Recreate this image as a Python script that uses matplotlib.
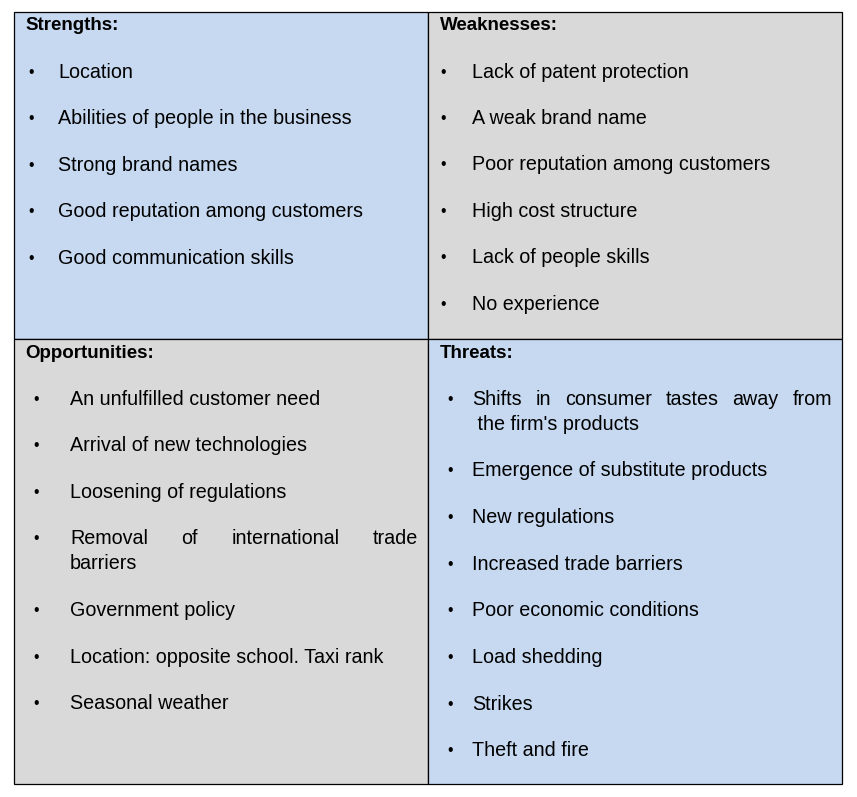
import matplotlib
matplotlib.use("Agg")
import matplotlib.pyplot as plt
from matplotlib.patches import Rectangle

headers = ["Strengths:", "Weaknesses:", "Opportunities:", "Threats:"]
strengths = ["Location", "Abilities of people in the business", "Strong brand names",
             "Good reputation among customers", "Good communication skills"]
weaknesses = ["Lack of patent protection", "A weak brand name", "Poor reputation among customers",
              "High cost structure", "Lack of people skills", "No experience"]
opportunities = ["An unfulfilled customer need", "Arrival of new technologies",
                 "Loosening of regulations", ["Removal of international trade", "barriers"],
                 "Government policy", "Location: opposite school. Taxi rank", "Seasonal weather"]
threats = [["Shifts in consumer tastes away from", " the firm's products"],
           "Emergence of substitute products", "New regulations", "Increased trade barriers",
           "Poor economic conditions", "Load shedding", "Strikes", "Theft and fire"]

BLUE = "#C6D9F1"
GRAY = "#D9D9D9"
FONT = "Liberation Sans"
FS = 14.2

fig = plt.figure(figsize=(8.57, 7.97), dpi=100)
ax = fig.add_axes([0, 0, 1, 1])
ax.set_xlim(0, 857)
ax.set_ylim(797, 0)
ax.axis("off")

L, M, R = 14, 428, 842
T, H, B = 12, 339, 784
cells = [(L, T, M, H, BLUE), (M, T, R, H, GRAY), (L, H, M, B, GRAY), (M, H, R, B, BLUE)]
for x0, y0, x1, y1, c in cells:
    ax.add_patch(Rectangle((x0, y0), x1 - x0, y1 - y0, facecolor=c, edgecolor="black", lw=0.9))

def justified(words_line, x0, x1, y):
    words = words_line.split()
    widths = []
    r = fig.canvas.get_renderer()
    ts = []
    for w in words:
        t = ax.text(0, y, w, fontsize=FS, family=FONT, va="center")
        bb = t.get_window_extent(r)
        widths.append(bb.width)
        ts.append(t)
    gap = (x1 - x0 - sum(widths)) / (len(words) - 1)
    x = x0
    for t, w in zip(ts, widths):
        t.set_x(x)
        x += w + gap

def draw(items, hx, hy, bx, tx, y0, step, jx1, y2off=25):
    ax.text(hx, hy, "", fontsize=FS)
    y = y0
    for it in items:
        ax.text(bx, y, "•", fontsize=FS * 0.8, family=FONT, va="center", ha="center")
        if isinstance(it, list):
            justified(it[0], tx, jx1, y)
            ax.text(tx, y + y2off, it[1], fontsize=FS, family=FONT, va="center")
            y += y2off
        else:
            ax.text(tx, y, it, fontsize=FS, family=FONT, va="center")
        y += step

hdr_pos = [(25, 25), (440, 25), (25, 353), (440, 353)]
for (hx, hy), h in zip(hdr_pos, headers):
    ax.text(hx, hy, h, fontsize=13.5, family=FONT, weight="bold", va="center")

draw(strengths, 0, 0, 31, 58, 72, 46.5, 0)
draw(weaknesses, 0, 0, 443, 472, 72, 46.4, 0)
draw(opportunities, 0, 0, 36, 70, 399, 46.6, 418)
draw(threats, 0, 0, 450, 472, 399, 46.7, 832)

fig.savefig("out.png", dpi=100)
